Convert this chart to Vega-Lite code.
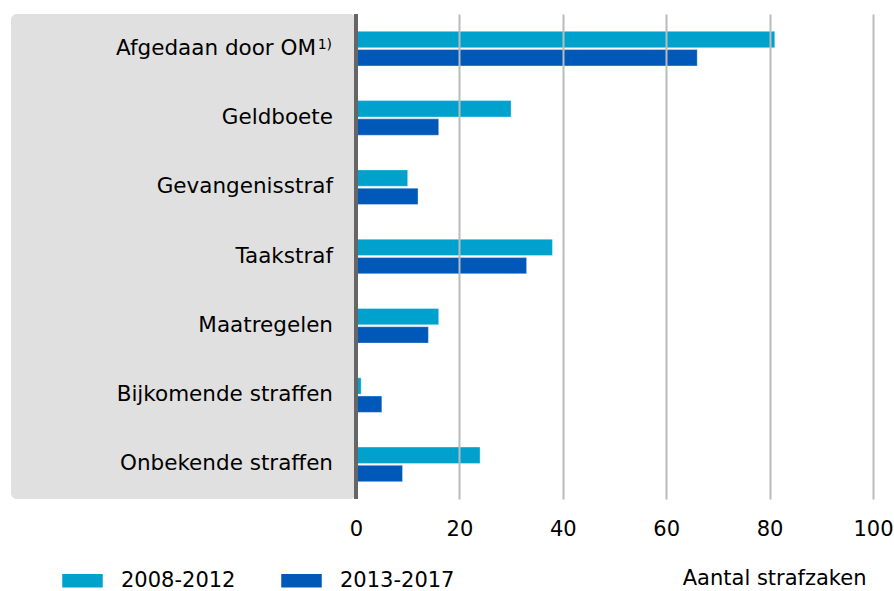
{
  "$schema": "https://vega.github.io/schema/vega-lite/v6.json",
  "padding": {"left": 11, "top": 12, "right": 0, "bottom": 0},
  "background": "white",
  "bounds": "flush",
  "config": {
    "font": "DejaVu Sans",
    "view": {"stroke": null},
    "concat": {"spacing": 0}
  },
  "datasets": {
    "bars": [
      {"category": "Afgedaan door OM", "period": "2008-2012", "value": 81},
      {"category": "Afgedaan door OM", "period": "2013-2017", "value": 66},
      {"category": "Geldboete", "period": "2008-2012", "value": 30},
      {"category": "Geldboete", "period": "2013-2017", "value": 16},
      {"category": "Gevangenisstraf", "period": "2008-2012", "value": 10},
      {"category": "Gevangenisstraf", "period": "2013-2017", "value": 12},
      {"category": "Taakstraf", "period": "2008-2012", "value": 38},
      {"category": "Taakstraf", "period": "2013-2017", "value": 33},
      {"category": "Maatregelen", "period": "2008-2012", "value": 16},
      {"category": "Maatregelen", "period": "2013-2017", "value": 14},
      {"category": "Bijkomende straffen", "period": "2008-2012", "value": 1},
      {"category": "Bijkomende straffen", "period": "2013-2017", "value": 5},
      {"category": "Onbekende straffen", "period": "2008-2012", "value": 24},
      {"category": "Onbekende straffen", "period": "2013-2017", "value": 9}
    ],
    "cats": [
      {"category": "Afgedaan door OM", "note": "1)"},
      {"category": "Geldboete", "note": ""},
      {"category": "Gevangenisstraf", "note": ""},
      {"category": "Taakstraf", "note": ""},
      {"category": "Maatregelen", "note": ""},
      {"category": "Bijkomende straffen", "note": ""},
      {"category": "Onbekende straffen", "note": ""}
    ]
  },
  "hconcat": [
    {
      "width": 345,
      "height": 485,
      "view": {"fill": "#e0e0e0", "stroke": null, "cornerRadius": 6},
      "data": {"name": "cats"},
      "encoding": {
        "x": {"value": "width"},
        "y": {"field": "category", "type": "nominal", "sort": null, "axis": null,
              "scale": {"domain": ["Afgedaan door OM", "Geldboete", "Gevangenisstraf", "Taakstraf", "Maatregelen", "Bijkomende straffen", "Onbekende straffen"]}}
      },
      "layer": [
        {
          "transform": [{"filter": "datum.note == ''"}],
          "mark": {"type": "text", "align": "right", "baseline": "middle", "fontSize": 21.5, "dx": -23, "color": "#000000"},
          "encoding": {"text": {"field": "category"}}
        },
        {
          "transform": [{"filter": "datum.note != ''"}],
          "mark": {"type": "text", "align": "right", "baseline": "middle", "fontSize": 21.5, "dx": -40, "color": "#000000"},
          "encoding": {"text": {"field": "category"}}
        },
        {
          "transform": [{"filter": "datum.note != ''"}],
          "mark": {"type": "text", "align": "right", "baseline": "middle", "fontSize": 14, "dx": -24, "dy": -4, "color": "#000000"},
          "encoding": {"text": {"field": "note"}}
        }
      ]
    },
    {
      "width": 517,
      "height": 485,
      "data": {"name": "bars"},
      "layer": [
        {
          "mark": {"type": "bar", "stroke": "#ffffff", "strokeWidth": 0.6, "strokeOpacity": 0.6},
          "encoding": {
            "y": {"field": "category", "type": "nominal", "sort": null, "axis": null,
                  "scale": {"paddingInner": 0.5, "paddingOuter": 0.25}},
            "yOffset": {"field": "period", "type": "nominal", "scale": {"paddingInner": 0.1}},
            "x": {"field": "value", "type": "quantitative",
                  "scale": {"domain": [0, 100], "nice": false},
                  "axis": {
                    "values": [0, 20, 40, 60, 80, 100],
                    "grid": true, "gridColor": "#bbbbbb", "gridWidth": 2,
                    "gridOpacity": {"condition": {"test": "datum.value == 0", "value": 0}, "value": 1},
                    "domain": false, "ticks": false, "labelFlush": false,
                    "labelFontSize": 21, "labelColor": "#000000", "labelPadding": 19,
                    "title": "Aantal strafzaken", "titleFontSize": 21, "titleFontWeight": "normal",
                    "titleColor": "#000000", "titleAnchor": "end", "titleAlign": "right", "titleX": 510,
                    "titlePadding": 28,
                    "zindex": 1
                  }},
            "color": {"field": "period", "type": "nominal",
                      "scale": {"domain": ["2008-2012", "2013-2017"], "range": ["#00a1cd", "#0058b8"]},
                      "legend": {
                        "title": null, "orient": "none", "direction": "horizontal",
                        "legendX": 51, "legendY": 546,
                        "symbolType": "M-1,-0.33H1V0.33H-1Z", "symbolSize": 1640,
                        "symbolStrokeWidth": 0,
                        "labelFontSize": 21, "labelColor": "#000000", "labelOffset": 18,
                        "columnPadding": 45
                      }}
          }
        },
        {
          "mark": {"type": "rule", "color": "#666666", "strokeWidth": 4},
          "encoding": {"x": {"datum": 0}}
        }
      ]
    }
  ]
}
